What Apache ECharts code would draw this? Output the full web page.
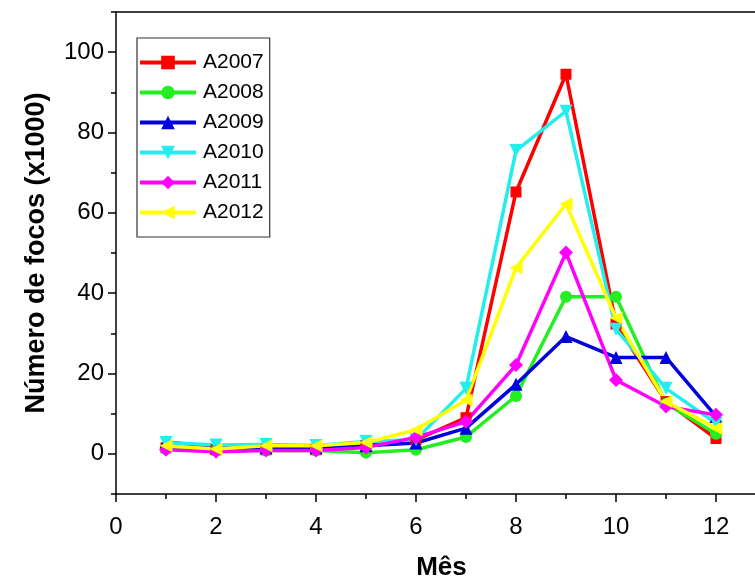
<!DOCTYPE html>
<html>
<head>
<meta charset="utf-8">
<script src="https://cdn.jsdelivr.net/npm/echarts@6/dist/echarts.min.js"></script>
<style>
  html, body { margin: 0; padding: 0; background: #fff; }
  #chart { width: 755px; height: 578px; }
</style>
</head>
<body>
<div id="chart"></div>
<script>
// Monthly fire-focus counts (thousands), one array per year
const months = [1, 2, 3, 4, 5, 6, 7, 8, 9, 10, 11, 12];
const A2007 = [1.5, 1.0, 1.0, 1.0, 2.0, 3.5, 9.0, 65.2, 94.5, 32.3, 13.0, 3.8];
const A2008 = [1.2, 0.8, 0.8, 0.8, 0.3, 1.0, 4.2, 14.4, 39.1, 39.1, 12.5, 5.0];
const A2009 = [3.0, 1.5, 1.5, 1.5, 2.0, 2.7, 6.4, 17.3, 29.2, 24.0, 24.0, 9.3];
const A2010 = [2.8, 2.2, 2.3, 2.1, 3.1, 3.5, 16.3, 75.5, 85.3, 31.0, 16.3, 7.6];
const A2011 = [1.0, 0.5, 0.8, 0.8, 1.6, 4.1, 8.0, 22.1, 50.1, 18.4, 11.8, 9.7];
const A2012 = [2.0, 1.2, 2.0, 2.0, 2.8, 6.0, 13.4, 46.3, 62.2, 33.8, 13.0, 6.4];

const xMajor = [0, 2, 4, 6, 8, 10, 12];
const xMinor = [1, 3, 5, 7, 9, 11];
const yMajor = [0, 20, 40, 60, 80, 100];
const yMinor = [-10, 10, 30, 50, 70, 90, 110];

const seriesDefs = [
  { name: 'A2007', data: A2007, color: '#ff0000', symbol: 'rect', rotate: 0, size: 11 },
  { name: 'A2008', data: A2008, color: '#22ee22', symbol: 'circle', rotate: 0, size: 12 },
  { name: 'A2009', data: A2009, color: '#0000dd', symbol: 'triangle', rotate: 0, size: 13 },
  { name: 'A2010', data: A2010, color: '#22eeee', symbol: 'triangle', rotate: 180, size: 13 },
  { name: 'A2011', data: A2011, color: '#ff00ff', symbol: 'diamond', rotate: 0, size: 14 },
  { name: 'A2012', data: A2012, color: '#ffff00', symbol: 'triangle', rotate: 90, size: 13 }
];

const FONT = 'Liberation Sans, Arial, sans-serif';
// the visible part of the month axis stops just short of 13
const X_MAX = 12.78;
const axisLine = { show: true, onZero: false, lineStyle: { color: '#000', width: 1.5 } };
const hiddenLine = { show: false, onZero: false };

const chart = echarts.init(document.getElementById('chart'));
chart.setOption({
  backgroundColor: '#fff',
  animation: false,
  grid: { left: 116, top: 12, right: 0, bottom: 84, containLabel: false, outerBoundsMode: 'none' },
  legend: {
    orient: 'vertical',
    left: 137,
    top: 38,
    padding: [14, 6, 14, 1],
    itemWidth: 56,
    itemHeight: 17,
    itemGap: 9,
    borderColor: '#333',
    borderWidth: 1.2,
    lineStyle: { width: 4 },
    textStyle: { fontFamily: FONT, fontSize: 21, color: '#000', lineHeight: 20, padding: [0, 0, 0, 2] },
    data: seriesDefs.map(d => d.name)
  },
  xAxis: [
    {
      type: 'value', min: 0, max: X_MAX, position: 'bottom',
      name: 'Mês', nameLocation: 'middle', nameGap: 61,
      nameTextStyle: { fontFamily: FONT, fontSize: 26, fontWeight: 'bold', color: '#000', padding: [0, 0, 0, 12] },
      axisLine: axisLine,
      axisTick: { show: true, inside: false, length: 8, customValues: xMajor, lineStyle: { color: '#000', width: 1.5 } },
      axisLabel: { show: true, customValues: xMajor, margin: 21, fontFamily: FONT, fontSize: 24, color: '#000' },
      splitLine: { show: false }
    },
    {
      type: 'value', min: 0, max: X_MAX, position: 'bottom',
      axisLine: hiddenLine,
      axisTick: { show: true, inside: false, length: 5, customValues: xMinor, lineStyle: { color: '#000', width: 1.5 } },
      axisLabel: { show: false },
      splitLine: { show: false }
    },
    {
      type: 'value', min: 0, max: X_MAX, position: 'top',
      axisLine: axisLine,
      axisTick: { show: false },
      axisLabel: { show: false },
      splitLine: { show: false }
    }
  ],
  yAxis: [
    {
      type: 'value', min: -10, max: 110, position: 'left',
      name: 'Número de focos (x1000)', nameLocation: 'middle', nameGap: 66,
      nameTextStyle: { fontFamily: FONT, fontSize: 27, fontWeight: 'bold', color: '#000' },
      axisLine: axisLine,
      axisTick: { show: true, inside: false, length: 8, customValues: yMajor, lineStyle: { color: '#000', width: 1.5 } },
      axisLabel: { show: true, customValues: yMajor, margin: 12, fontFamily: FONT, fontSize: 24, color: '#000' },
      splitLine: { show: false }
    },
    {
      type: 'value', min: -10, max: 110, position: 'left',
      axisLine: hiddenLine,
      axisTick: { show: true, inside: false, length: 5, customValues: yMinor, lineStyle: { color: '#000', width: 1.5 } },
      axisLabel: { show: false },
      splitLine: { show: false }
    }
  ],
  series: seriesDefs.map(d => ({
    name: d.name,
    type: 'line',
    xAxisIndex: 0,
    yAxisIndex: 0,
    data: months.map((m, i) => [m, d.data[i]]),
    symbol: d.symbol,
    symbolSize: d.size,
    symbolRotate: d.rotate,
    showAllSymbol: true,
    color: d.color,
    lineStyle: { color: d.color, width: 3.5 },
    itemStyle: { color: d.color },
    emphasis: { disabled: true }
  }))
});
</script>
</body>
</html>
